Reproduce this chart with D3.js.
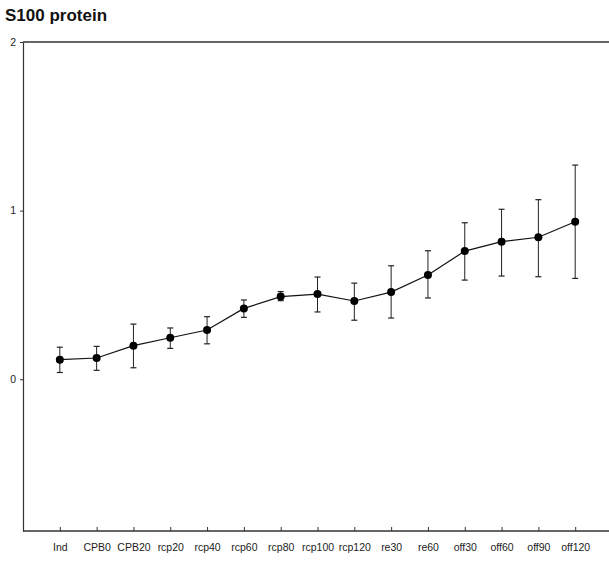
<!DOCTYPE html>
<html>
<head>
<meta charset="utf-8">
<script src="https://cdn.jsdelivr.net/npm/d3@7"></script>
<style>
    body { margin: 0; background: white; }
    svg { display: block; font-family: "Liberation Sans", Arial, sans-serif; }
</style>
</head>
<body>
<div id="visualisation"></div>
<script>

// data
const categories = ["Ind", "CPB0", "CPB20", "rcp20", "rcp40", "rcp60", "rcp80", "rcp100", "rcp120", "re30", "re60", "off30", "off60", "off90", "off120"];
const means = [0.116, 0.126, 0.199, 0.246, 0.292, 0.42, 0.49, 0.505, 0.464, 0.517, 0.618, 0.76, 0.816, 0.842, 0.934];
const upper = [0.19, 0.195, 0.327, 0.304, 0.371, 0.47, 0.52, 0.606, 0.57, 0.673, 0.762, 0.928, 1.008, 1.065, 1.27];
const lower = [0.04, 0.053, 0.068, 0.183, 0.21, 0.367, 0.466, 0.399, 0.35, 0.363, 0.482, 0.588, 0.612, 0.608, 0.598];
const yTicks = [0, 1, 2];

const data = categories.map((c, i) => ({ cat: c, mean: means[i], hi: upper[i], lo: lower[i] }));

const widthSvg = 609, heightSvg = 561;
const padLeft = 23, padRight = 612, padTop = 42, padBottom = 531;

let svg = d3.select("#visualisation").append("svg")
    .attr("width", widthSvg).attr("height", heightSvg);

// scales
const xScale = d3.scalePoint()
    .domain(categories)
    .range([padLeft, padRight])
    .padding(1);

const yScale = d3.scaleLinear()
    .domain([-0.9, 2])
    .range([padBottom, padTop]);

// title
svg.append("text")
    .text("S100 protein")
    .attr("x", 5)
    .attr("y", 21)
    .attr("font-size", 17)
    .attr("font-weight", "bold")
    .attr("fill", "#111");

// top frame line
svg.append("line")
    .attr("x1", padLeft).attr("x2", widthSvg)
    .attr("y1", padTop).attr("y2", padTop)
    .attr("stroke", "#333").attr("stroke-width", 1.3);

// y axis
let yAxis = svg.append("g")
    .attr("transform", `translate(${padLeft}, 0)`)
    .call(d3.axisLeft(yScale).tickValues(yTicks).tickSizeInner(3).tickSizeOuter(0).tickFormat(d3.format("d")));
yAxis.select(".domain").attr("stroke", "#333").attr("stroke-width", 1.2);
yAxis.selectAll(".tick line").attr("stroke", "#333");
yAxis.selectAll("text")
    .attr("font-size", 10.5)
    .attr("font-family", "Liberation Sans, Arial, sans-serif")
    .attr("fill", "#222")
    .attr("x", -7);

// x axis, ticks point inward
let xAxis = svg.append("g")
    .attr("transform", `translate(0, ${padBottom})`)
    .call(d3.axisBottom(xScale).tickSizeInner(-4).tickSizeOuter(0));
xAxis.select(".domain").attr("d", `M${padLeft},0H${widthSvg}`).attr("stroke", "#333").attr("stroke-width", 1.3);
xAxis.selectAll(".tick line").attr("stroke", "#333");
xAxis.selectAll("text")
    .attr("font-size", 10.5)
    .attr("font-family", "Liberation Sans, Arial, sans-serif")
    .attr("fill", "#222")
    .attr("y", 13);

let canvas = svg.append("g").attr("id", "canvas");

// error bars
canvas.selectAll(".err")
    .data(data)
    .enter()
    .append("line")
    .attr("class", "err")
    .attr("x1", d => xScale(d.cat)).attr("x2", d => xScale(d.cat))
    .attr("y1", d => yScale(d.hi)).attr("y2", d => yScale(d.lo))
    .attr("stroke", "#222").attr("stroke-width", 1);

canvas.selectAll(".capHi")
    .data(data)
    .enter()
    .append("line")
    .attr("class", "capHi")
    .attr("x1", d => xScale(d.cat) - 3).attr("x2", d => xScale(d.cat) + 3)
    .attr("y1", d => yScale(d.hi)).attr("y2", d => yScale(d.hi))
    .attr("stroke", "#222").attr("stroke-width", 1.2);

canvas.selectAll(".capLo")
    .data(data)
    .enter()
    .append("line")
    .attr("class", "capLo")
    .attr("x1", d => xScale(d.cat) - 3).attr("x2", d => xScale(d.cat) + 3)
    .attr("y1", d => yScale(d.lo)).attr("y2", d => yScale(d.lo))
    .attr("stroke", "#222").attr("stroke-width", 1.2);

// mean line
const line = d3.line()
    .x(d => xScale(d.cat))
    .y(d => yScale(d.mean));

canvas.append("path")
    .datum(data)
    .attr("d", line)
    .attr("fill", "none")
    .attr("stroke", "#111")
    .attr("stroke-width", 1.2);

canvas.selectAll("circle")
    .data(data)
    .enter()
    .append("circle")
    .attr("cx", d => xScale(d.cat))
    .attr("cy", d => yScale(d.mean))
    .attr("r", 4)
    .attr("fill", "#000");

</script>
</body>
</html>
